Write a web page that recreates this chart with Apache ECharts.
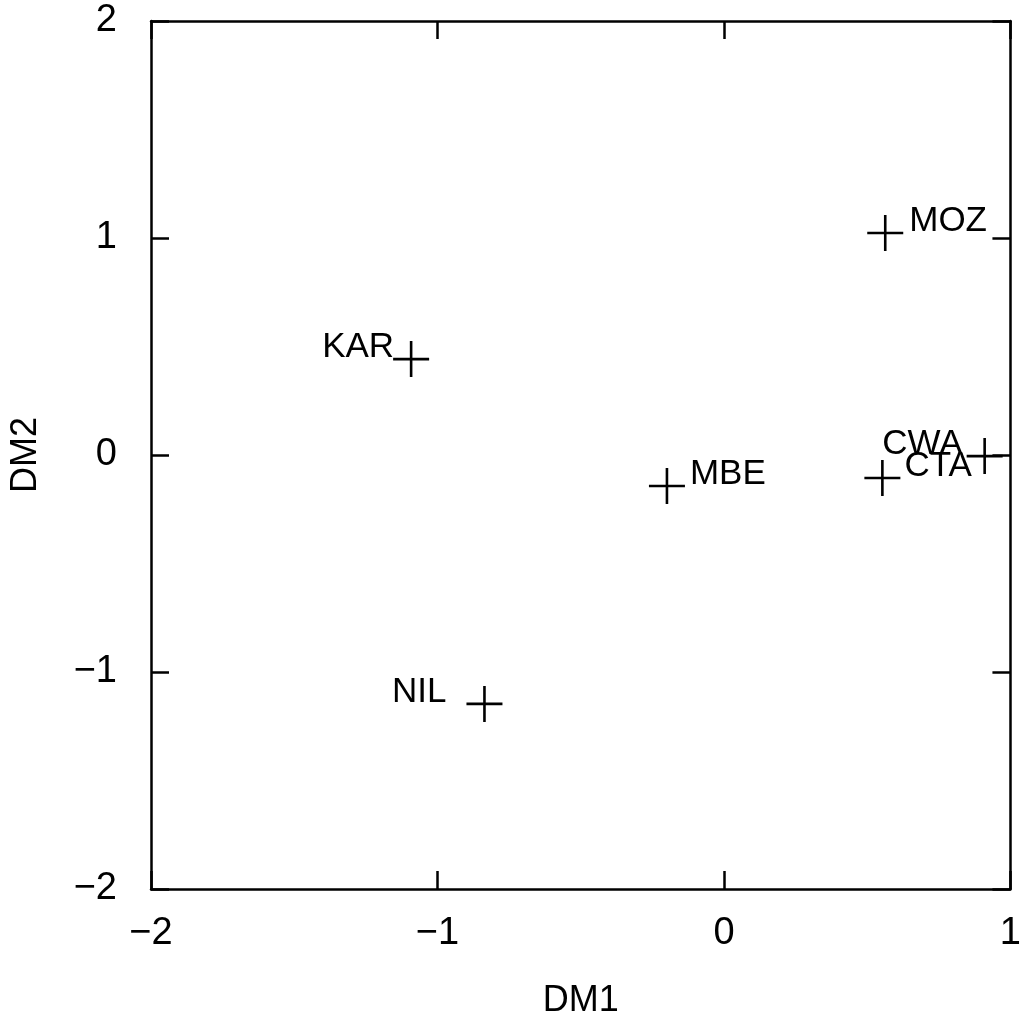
<!DOCTYPE html>
<html>
<head>
<meta charset="utf-8">
<script src="https://cdn.jsdelivr.net/npm/echarts@6/dist/echarts.min.js"></script>
<style>
html,body{margin:0;padding:0;background:#fff;overflow:hidden;}
#chart{width:1024px;height:1028px;}
</style>
</head>
<body>
<div id="chart"></div>
<script>
// Data
const names = ['MOZ', 'KAR', 'MBE', 'NIL', 'CTA', 'CWA'];
const dm1 = [0.563, -1.092, -0.199, -0.836, 0.553, 0.910];
const dm2 = [1.023, 0.442, -0.143, -1.147, -0.106, -0.005];
const labelSide = ['right', 'left', 'right', 'left', 'right', 'left'];
const labelGap = [6, -1, 5, 20, 4, 4];

const FONT = "'Liberation Sans', Arial, Helvetica, sans-serif";
const plus = 'path://M-1.3,-18 L1.3,-18 L1.3,-1.3 L18,-1.3 L18,1.3 L1.3,1.3 L1.3,18 L-1.3,18 L-1.3,1.3 L-18,1.3 L-18,-1.3 L-1.3,-1.3 Z';

const data = names.map((n, i) => ({
  name: n,
  value: [dm1[i], dm2[i]],
  label: { position: labelSide[i], distance: labelGap[i] }
}));

const axisLine = { show: true, onZero: false, lineStyle: { color: '#000', width: 2.5 } };
const tick = { show: true, inside: true, length: 18, lineStyle: { color: '#000', width: 2.5 } };
const minus = v => String(v).replace('-', '\u2212');

const chart = echarts.init(document.getElementById('chart'));
chart.setOption({
  animation: false,
  backgroundColor: '#fff',
  grid: { left: 149, right: 2, top: 21, bottom: 139, containLabel: false },
  xAxis: [
    {
      type: 'value', min: -2, max: 1, interval: 1, position: 'bottom',
      name: 'DM1', nameLocation: 'middle', nameGap: 94,
      nameTextStyle: { fontFamily: FONT, fontSize: 36, color: '#000' },
      axisLine: axisLine, axisTick: tick, splitLine: { show: false },
      axisLabel: { fontFamily: FONT, fontSize: 38, color: '#000', margin: 26, formatter: minus }
    },
    {
      type: 'value', min: -2, max: 1, interval: 1, position: 'top',
      axisLine: axisLine, axisTick: tick, splitLine: { show: false },
      axisLabel: { show: false }
    }
  ],
  yAxis: [
    {
      type: 'value', min: -2, max: 2, interval: 1, position: 'left',
      name: 'DM2', nameLocation: 'middle', nameGap: 107, nameRotate: 90,
      nameTextStyle: { fontFamily: FONT, fontSize: 36, color: '#000' },
      axisLine: axisLine, axisTick: tick, splitLine: { show: false },
      axisLabel: { fontFamily: FONT, fontSize: 38, color: '#000', margin: 34, formatter: minus }
    },
    {
      type: 'value', min: -2, max: 2, interval: 1, position: 'right',
      axisLine: axisLine, axisTick: tick, splitLine: { show: false },
      axisLabel: { show: false }
    }
  ],
  series: [{
    type: 'scatter',
    data: data,
    symbol: plus,
    symbolSize: 36,
    symbolKeepAspect: true,
    itemStyle: { color: '#000', opacity: 1 },
    emphasis: { disabled: true },
    label: {
      show: true,
      formatter: p => p.name,
      fontFamily: FONT,
      fontSize: 35,
      color: '#000',
      offset: [0, -12]
    }
  }]
});
</script>
</body>
</html>
